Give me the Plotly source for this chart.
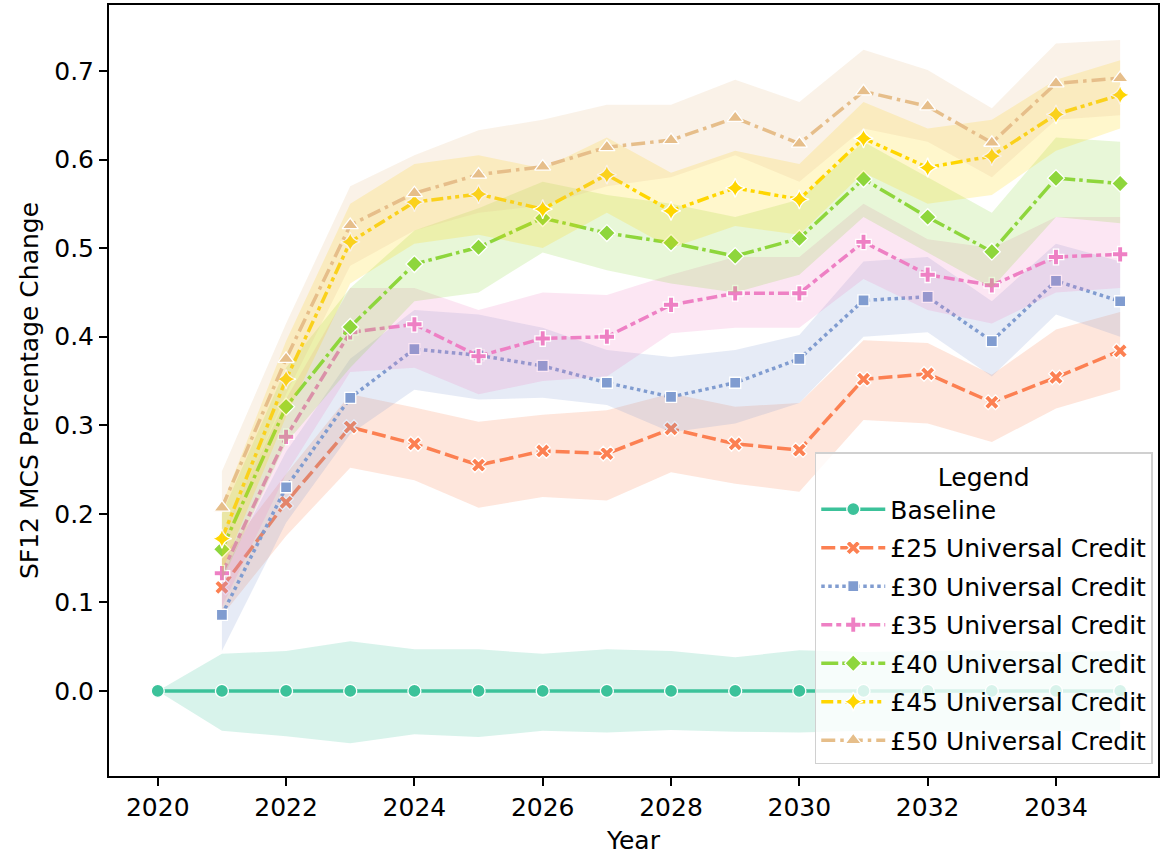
import plotly.graph_objects as go

# Simulation years
years_baseline = list(range(2020, 2036))
years = list(range(2021, 2036))

# Baseline (no uplift) with its confidence band
baseline_mean = [0.0] * 16
baseline_lower = [0.0, -0.045, -0.051, -0.059, -0.049, -0.052, -0.045, -0.047,
                  -0.044, -0.046, -0.047, -0.045, -0.046, -0.044, -0.045, -0.046]
baseline_upper = [0.0, 0.042, 0.045, 0.056, 0.047, 0.047, 0.042, 0.047,
                  0.045, 0.038, 0.046, 0.044, 0.045, 0.046, 0.044, 0.045]

# £25 uplift
uc25_mean = [0.117, 0.213, 0.298, 0.279, 0.255, 0.271, 0.268, 0.296, 0.279, 0.272, 0.352, 0.358, 0.326, 0.354, 0.384]
uc25_lower = [0.085, 0.175, 0.252, 0.238, 0.207, 0.219, 0.215, 0.247, 0.234, 0.225, 0.306, 0.302, 0.281, 0.319, 0.340]
uc25_upper = [0.150, 0.245, 0.335, 0.320, 0.304, 0.312, 0.317, 0.336, 0.321, 0.325, 0.396, 0.393, 0.357, 0.408, 0.428]

# £30 uplift
uc30_mean = [0.086, 0.230, 0.331, 0.386, 0.379, 0.367, 0.348, 0.332, 0.348, 0.375, 0.441, 0.445, 0.395, 0.463, 0.440]
uc30_lower = [0.045, 0.190, 0.290, 0.340, 0.329, 0.331, 0.323, 0.292, 0.302, 0.325, 0.400, 0.405, 0.355, 0.425, 0.400]
uc30_upper = [0.130, 0.270, 0.375, 0.430, 0.425, 0.410, 0.385, 0.377, 0.385, 0.402, 0.485, 0.490, 0.440, 0.505, 0.485]

# £35 uplift
uc35_mean = [0.133, 0.287, 0.405, 0.414, 0.378, 0.398, 0.400, 0.436, 0.449, 0.449, 0.507, 0.470, 0.458, 0.490, 0.493]
uc35_lower = [0.095, 0.245, 0.360, 0.365, 0.335, 0.350, 0.355, 0.404, 0.410, 0.410, 0.465, 0.430, 0.415, 0.450, 0.455]
uc35_upper = [0.175, 0.330, 0.455, 0.455, 0.430, 0.450, 0.447, 0.470, 0.490, 0.490, 0.550, 0.510, 0.500, 0.535, 0.535]

# £40 uplift
uc40_mean = [0.160, 0.321, 0.411, 0.482, 0.501, 0.534, 0.517, 0.506, 0.491, 0.511, 0.578, 0.535, 0.496, 0.579, 0.573]
uc40_lower = [0.125, 0.280, 0.365, 0.440, 0.450, 0.495, 0.475, 0.460, 0.450, 0.470, 0.535, 0.495, 0.455, 0.535, 0.528]
uc40_upper = [0.200, 0.365, 0.455, 0.520, 0.545, 0.575, 0.560, 0.550, 0.535, 0.555, 0.620, 0.580, 0.540, 0.625, 0.620]

# £45 uplift
uc45_mean = [0.172, 0.352, 0.507, 0.552, 0.561, 0.544, 0.583, 0.542, 0.568, 0.555, 0.624, 0.591, 0.604, 0.651, 0.673]
uc45_lower = [0.135, 0.310, 0.460, 0.505, 0.515, 0.500, 0.540, 0.500, 0.525, 0.515, 0.585, 0.550, 0.560, 0.610, 0.635]
uc45_upper = [0.210, 0.395, 0.550, 0.595, 0.605, 0.590, 0.625, 0.585, 0.610, 0.595, 0.665, 0.635, 0.645, 0.690, 0.712]

# £50 uplift
uc50_mean = [0.207, 0.375, 0.526, 0.562, 0.583, 0.592, 0.614, 0.622, 0.647, 0.618, 0.677, 0.660, 0.619, 0.686, 0.692]
uc50_lower = [0.170, 0.335, 0.480, 0.520, 0.540, 0.548, 0.570, 0.580, 0.605, 0.575, 0.635, 0.620, 0.580, 0.645, 0.650]
uc50_upper = [0.248, 0.415, 0.570, 0.605, 0.633, 0.645, 0.662, 0.662, 0.690, 0.665, 0.724, 0.701, 0.658, 0.731, 0.735]

x_ticks = [2020, 2022, 2024, 2026, 2028, 2030, 2032, 2034]
y_ticks = [0.0, 0.1, 0.2, 0.3, 0.4, 0.5, 0.6, 0.7]

series = [
    # name, x, mean, lower, upper, rgb, dash, marker, marker size
    ("Baseline", years_baseline, baseline_mean, baseline_lower, baseline_upper,
     (60, 194, 154), "solid", "circle", 13),
    ("£25 Universal Credit", years, uc25_mean, uc25_lower, uc25_upper,
     (252, 128, 82), "14px,5px", "x", 13),
    ("£30 Universal Credit", years, uc30_mean, uc30_lower, uc30_upper,
     (128, 156, 208), "3.5px,3.5px", "square", 11),
    ("£35 Universal Credit", years, uc35_mean, uc35_lower, uc35_upper,
     (238, 128, 196), "11px,4px,5px,4px", "cross", 13),
    ("£40 Universal Credit", years, uc40_mean, uc40_lower, uc40_upper,
     (142, 214, 60), "17px,4px,3.5px,4px", "diamond", 13),
    ("£45 Universal Credit", years, uc45_mean, uc45_lower, uc45_upper,
     (255, 214, 0), "12px,4px,4px,4px,4px,4px", "star-diamond", 14),
    ("£50 Universal Credit", years, uc50_mean, uc50_lower, uc50_upper,
     (230, 190, 138), "14px,5px,3.5px,5px", "triangle-up", 14),
]

fig = go.Figure()

for name, xs, mean, lo, hi, rgb, dash, sym, msize in series:
    r, g, b = rgb
    # confidence band
    fig.add_trace(go.Scatter(
        x=list(xs) + list(xs)[::-1],
        y=list(hi) + list(lo)[::-1],
        fill="toself",
        fillcolor=f"rgba({r},{g},{b},0.2)",
        line=dict(width=0),
        mode="lines",
        hoverinfo="skip",
        showlegend=False,
        legendgroup=name,
    ))
    # mean line with markers
    fig.add_trace(go.Scatter(
        x=xs, y=mean, name=name, legendgroup=name,
        mode="lines+markers",
        line=dict(color=f"rgb({r},{g},{b})", width=3.5, dash=dash),
        marker=dict(symbol=sym, size=msize, color=f"rgb({r},{g},{b})",
                    line=dict(color="white", width=1.3)),
    ))

axis_font = dict(family="DejaVu Sans", size=25, color="black")

fig.update_layout(
    width=1163, height=857,
    margin=dict(l=109, r=3, t=5, b=81),
    paper_bgcolor="white", plot_bgcolor="white",
    font=dict(family="DejaVu Sans", size=25, color="black"),
    showlegend=True,
    legend=dict(
        title=dict(text="Legend", side="top center", font=dict(size=25)),
        font=dict(family="DejaVu Sans", size=25, color="black"),
        x=0.995, y=0.015, xanchor="right", yanchor="bottom",
        bgcolor="rgba(255,255,255,0.8)",
        bordercolor="#d0d0d0", borderwidth=1.5,
        itemwidth=64, tracegroupgap=3,
    ),
    xaxis=dict(
        range=[2019.24, 2035.59],
        tickmode="array", tickvals=x_ticks, ticktext=[str(v) for v in x_ticks],
        ticks="outside", ticklen=8, tickwidth=1.5, tickcolor="black",
        showline=True, linecolor="black", linewidth=2, mirror=True,
        showgrid=False, zeroline=False,
        tickfont=axis_font,
        title=dict(text="Year", font=axis_font, standoff=10),
    ),
    yaxis=dict(
        range=[-0.096, 0.7745],
        tickmode="array", tickvals=y_ticks, ticktext=[f"{v:.1f}" for v in y_ticks],
        ticks="outside", ticklen=8, tickwidth=1.5, tickcolor="black",
        showline=True, linecolor="black", linewidth=2, mirror=True,
        showgrid=False, zeroline=False,
        tickfont=axis_font,
        title=dict(text="SF12 MCS Percentage Change", font=axis_font, standoff=8),
    ),
)

fig.write_html("out.html")
